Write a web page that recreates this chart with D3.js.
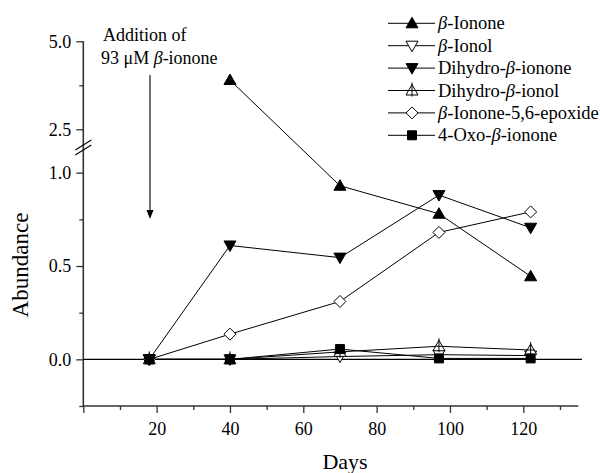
<!DOCTYPE html>
<html><head><meta charset="utf-8">
<script src="https://cdn.jsdelivr.net/npm/d3@7"></script>
<style>body{margin:0;background:#fff}svg{display:block}
svg text{font-family:"Liberation Serif","Times New Roman",Times,"DejaVu Serif",serif !important;}</style>
</head><body>
<svg id="c" width="600" height="473"></svg>
<script>
const days = [18, 40, 70, 97, 122];
const seriesNames = ["β-Ionone","β-Ionol","Dihydro-β-ionone","Dihydro-β-ionol","β-Ionone-5,6-epoxide","4-Oxo-β-ionone"];
const betaIonone = [null, 3.9, 0.93, 0.78, 0.445];
const betaIonol = [0, 0, 0.015, 0.025, 0.02];
const dihydroIonone = [0, 0.61, 0.545, 0.88, 0.705];
const dihydroIonol = [0, 0, 0.04, 0.07, 0.05];
const epoxide = [0, 0.135, 0.31, 0.68, 0.79];
const oxoIonone = [0, 0, 0.055, 0.005, 0.005];
const xTicks = [20, 40, 60, 80, 100, 120];
const yLowTicks = [0.0, 0.5, 1.0];
const yHighTicks = [2.5, 5.0];

const series = [
  {name: seriesNames[0], values: betaIonone, sym: "triUp", fill: "#000"},
  {name: seriesNames[1], values: betaIonol, sym: "triDown", fill: "#fff"},
  {name: seriesNames[2], values: dihydroIonone, sym: "triDown", fill: "#000"},
  {name: seriesNames[3], values: dihydroIonol, sym: "triUpBar", fill: "#fff"},
  {name: seriesNames[4], values: epoxide, sym: "diamond", fill: "#fff"},
  {name: seriesNames[5], values: oxoIonone, sym: "square", fill: "#000"}
];

const svg = d3.select("#c");
const x = d3.scaleLinear().domain([0, 135]).range([83.3, 578.3]);
const yLow = d3.scaleLinear().domain([-0.25, 1.0]).range([406, 172.7]);
const yHigh = d3.scaleLinear().domain([2.5, 5.0]).range([129.3, 41.3]);
const breakHigh = 2.0;
const y = v => v >= breakHigh ? yHigh(v) : yLow(v);

// axes
const axisG = svg.append("g");
const xAxis = d3.axisBottom(x).tickValues(xTicks).tickSize(7).tickPadding(9).tickFormat(d3.format("d"));
const gx = axisG.append("g").attr("transform", "translate(0,406)").call(xAxis);
gx.select(".domain").remove();
gx.selectAll("text").attr("font-size", 18).attr("fill", "#000");
const xMinor = d3.axisBottom(x).tickValues([0,10,30,50,70,90,110,130]).tickSize(4).tickFormat("");
const gxm = axisG.append("g").attr("transform", "translate(0,406)").call(xMinor);
gxm.select(".domain").remove();
gxm.selectAll(".tick").filter(d => d === 0).select("line").attr("y2", 7);
axisG.append("line").attr("x1", x(0)).attr("x2", x(135)).attr("y1", 406).attr("y2", 406)
  .attr("stroke", "#333").attr("stroke-width", 1.6);

function yAx(scale, ticks, minor) {
  const g = axisG.append("g").attr("transform", `translate(${x(0)},0)`)
    .call(d3.axisLeft(scale).tickValues(ticks).tickSize(7).tickPadding(5).tickFormat(d3.format(".1f")));
  g.select(".domain").remove();
  g.selectAll("text").attr("font-size", 18).attr("fill", "#000");
  const gm = axisG.append("g").attr("transform", `translate(${x(0)},0)`)
    .call(d3.axisLeft(scale).tickValues(minor).tickSize(4).tickFormat(""));
  gm.select(".domain").remove();
}
yAx(yLow, yLowTicks, [-0.25, 0.25, 0.75]);
yAx(yHigh, yHighTicks, [3.75]);
axisG.selectAll(".tick line").attr("stroke", "#333").attr("stroke-width", 1.3);
axisG.append("line").attr("x1", x(0)).attr("x2", x(0)).attr("y1", yHigh(5.0)).attr("y2", 406)
  .attr("stroke", "#333").attr("stroke-width", 1.6);
[0, 5].forEach(d => {
  axisG.append("line").attr("x1", x(0) - 8).attr("y1", 150 + d).attr("x2", x(0) + 8).attr("y2", 140 + d)
    .attr("stroke", "#000").attr("stroke-width", 1.1);
});

// zero line
svg.append("line").attr("x1", x(0)).attr("x2", x(136)).attr("y1", yLow(0)).attr("y2", yLow(0))
  .attr("stroke", "#000").attr("stroke-width", 1.1);

function symPath(sym) {
  switch (sym) {
    case "triUp": case "triUpBar": return "M0,-6L6,4.5L-6,4.5Z";
    case "triDown": return "M0,6L6,-4.5L-6,-4.5Z";
    case "diamond": return "M0,-6L6,0L0,6L-6,0Z";
    case "square": return "M-4.5,-4.5L4.5,-4.5L4.5,4.5L-4.5,4.5Z";
  }
}
function drawSym(g, s, cx, cy) {
  g.append("path").attr("d", symPath(s.sym)).attr("transform", `translate(${cx},${cy})`)
    .attr("fill", s.fill).attr("stroke", "#000").attr("stroke-width", 1);
  if (s.sym === "triUpBar") {
    g.append("line").attr("x1", cx).attr("x2", cx).attr("y1", cy - 8).attr("y2", cy + 6)
      .attr("stroke", "#000").attr("stroke-width", 1);
    g.append("line").attr("x1", cx - 4).attr("x2", cx + 4).attr("y1", cy).attr("y2", cy)
      .attr("stroke", "#000").attr("stroke-width", 1);
  }
}

const lineG = svg.append("g");
const markG = svg.append("g");
const lineGen = d3.line().defined(d => d.v != null).x(d => x(d.d)).y(d => y(d.v));
series.forEach(s => {
  lineG.append("path").datum(days.map((d, i) => ({d, v: s.values[i]})))
    .attr("d", lineGen).attr("fill", "none").attr("stroke", "#000").attr("stroke-width", 1);
});
[1, 3, 4, 2, 5, 0].forEach(k => {
  const s = series[k];
  s.values.forEach((v, i) => { if (v != null) drawSym(markG, s, x(days[i]), y(v)); });
});

// legend
const leg = svg.append("g").attr("font-size", 18.5);
series.forEach((s, i) => {
  const cy = 23.3 + i * 22.4;
  leg.append("line").attr("x1", 388).attr("x2", 435).attr("y1", cy).attr("y2", cy).attr("stroke", "#000").attr("stroke-width", 1);
  drawSym(leg, s, 412, cy);
  const parts = s.name.split("β");
  const t = leg.append("text").attr("x", 438).attr("y", cy + 6);
  parts.forEach((p, j) => {
    if (j > 0) t.append("tspan").attr("font-style", "italic").text("β");
    t.append("tspan").text(p);
  });
});

// annotation
const ann = svg.append("g").attr("font-size", 18);
ann.append("text").attr("x", 103).attr("y", 41).text("Addition of");
const t2 = ann.append("text").attr("x", 101).attr("y", 64);
t2.append("tspan").text("93 μM ");
t2.append("tspan").attr("font-style", "italic").text("β");
t2.append("tspan").text("-ionone");
ann.append("line").attr("x1", 150).attr("x2", 150).attr("y1", 75).attr("y2", 212).attr("stroke", "#000").attr("stroke-width", 1.1);
ann.append("path").attr("d", "M146.5,210L153.5,210L150,219Z").attr("fill", "#000");

svg.append("text").attr("x", 345).attr("y", 469).attr("text-anchor", "middle")
  .attr("font-size", 22).text("Days");
svg.append("text").attr("transform", "translate(28,265) rotate(-90)").attr("text-anchor", "middle")
  .attr("font-size", 23).text("Abundance");
</script>
</body></html>
